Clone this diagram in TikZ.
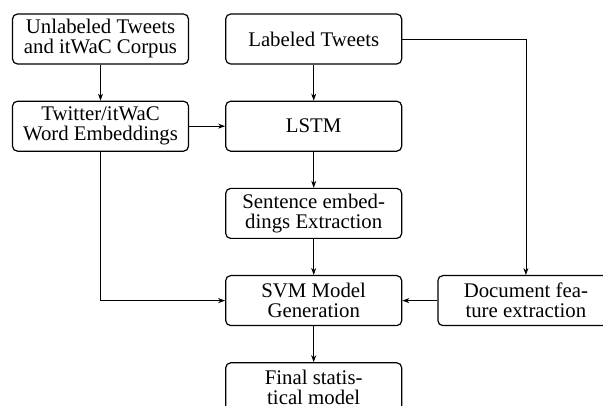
\documentclass[tikz,border=0pt]{standalone}
\usepackage{fontspec}
\setmainfont{Liberation Serif}
\usetikzlibrary{positioning,arrows.meta}

\begin{document}
\begin{tikzpicture}[x=1pt,y=1pt,
    block/.style={draw, line width=1.2pt, rounded corners=5pt, minimum width=176pt,
      minimum height=50pt, align=center, font=\fontsize{20.8}{20}\selectfont},
    arr/.style={-{Stealth[length=7pt,width=5pt]}, line width=0.8pt},
    node distance=36pt and 36pt]
    \useasboundingbox (0,0) rectangle (603,-406);

    % Left column
    \node[block] (unlab) at (100.5,-39) {Unlabeled Tweets\\and itWaC Corpus};
    \node[block, below=of unlab] (wemb) {Twitter/itWaC\\Word Embeddings};

    % Middle column
    \node[block, right=of unlab] (lab) {Labeled Tweets};
    \node[block, below=of lab] (lstm) {LSTM};
    \node[block, below=of lstm] (sent) {Sentence embed-\\dings Extraction};
    \node[block, below=of sent] (svm) {SVM Model\\Generation};
    \node[block, below=of svm] (final) {Final statis-\\tical model};

    % Right column
    \node[block, right=35pt of svm] (docf) {Document fea-\\ture extraction};

    % Connectors
    \draw[arr] (unlab) -- (wemb);
    \draw[arr] (wemb) -- (lstm);
    \draw[arr] (lab) -- (lstm);
    \draw[arr] (lstm) -- (sent);
    \draw[arr] (sent) -- (svm);
    \draw[arr] (svm) -- (final);
    \draw[arr] (lab.east) -| (docf.north);
    \draw[arr] (wemb.south) |- (svm.west);
    \draw[arr] (docf) -- (svm);

\end{tikzpicture}
\end{document}
